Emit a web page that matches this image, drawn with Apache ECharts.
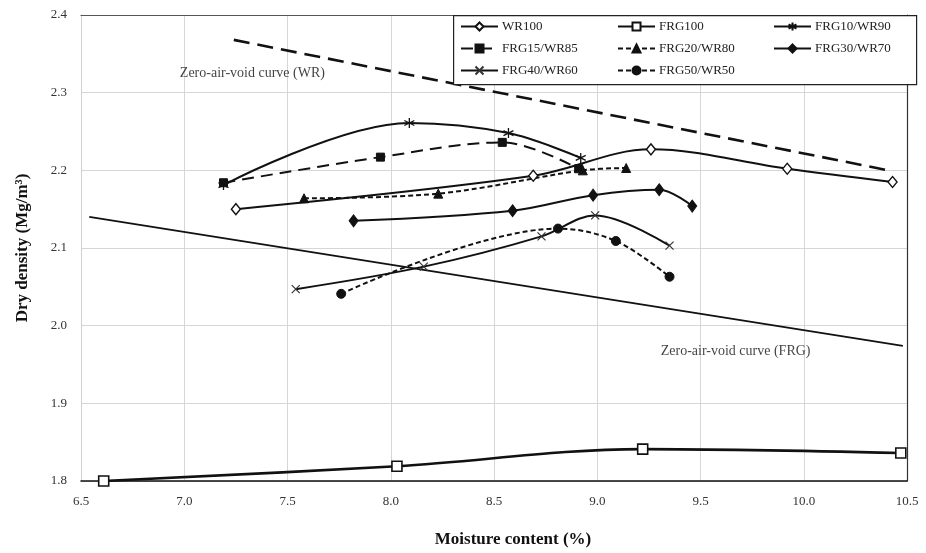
<!DOCTYPE html>
<html>
<head>
<meta charset="utf-8">
<script src="https://cdn.jsdelivr.net/npm/echarts@6/dist/echarts.min.js"></script>
<style>
html,body{margin:0;padding:0;background:#fff;}
#chart{width:926px;height:553px;}
</style>
</head>
<body>
<div id="chart"></div>
<script>
// ---- Data ----
const xTickLabels = ['6.5','7.0','7.5','8.0','8.5','9.0','9.5','10.0','10.5'];
const yTickLabels = ['1.8','1.9','2.0','2.1','2.2','2.3','2.4'];

const wr100X = [7.25, 8.69, 9.26, 9.92, 10.43];
const wr100Y = [2.150, 2.193, 2.227, 2.202, 2.185];

const frg100X = [6.61, 8.03, 9.22, 10.47];
const frg100Y = [1.800, 1.819, 1.841, 1.836];

const frg10X = [7.19, 8.09, 8.57, 8.92];
const frg10Y = [2.181, 2.261, 2.248, 2.216];

const frg15X = [7.19, 7.95, 8.54, 8.91];
const frg15Y = [2.184, 2.217, 2.236, 2.202];

const frg20X = [7.58, 8.23, 8.93, 9.14];
const frg20Y = [2.164, 2.170, 2.200, 2.203];

const frg30X = [7.82, 8.59, 8.98, 9.30, 9.46];
const frg30Y = [2.135, 2.148, 2.168, 2.175, 2.154];

const frg40X = [7.54, 8.16, 8.73, 8.99, 9.35];
const frg40Y = [2.047, 2.076, 2.115, 2.142, 2.103];

const frg50X = [7.76, 8.81, 9.09, 9.35];
const frg50Y = [2.041, 2.125, 2.109, 2.063];

const zavWRX = [7.24, 10.41];
const zavWRY = [2.368, 2.200];
const zavFRGX = [6.54, 10.48];
const zavFRGY = [2.140, 1.974];

const zavLabels = ['Zero-air-void curve (WR)', 'Zero-air-void curve (FRG)'];
const zavLabelX = [7.33, 9.67];
const zavLabelY = [2.325, 1.967];

const seriesNames = ['WR100','FRG100','FRG10/WR90','FRG15/WR85','FRG20/WR80','FRG30/WR70','FRG40/WR60','FRG50/WR50'];

// ---- Build ----
function pairs(xs, ys){ return xs.map((x,i)=>[x, ys[i]]); }
const FONT = '"Liberation Serif", "DejaVu Serif", serif';
const BLACK = '#111';

const ASTERISK = 'path://M5,0L5,10M0.7,2.5L9.3,7.5M0.7,7.5L9.3,2.5';
const CROSS = 'path://M0,0L10,10M0,10L10,0';

function lineSeries(name, xs, ys, opts){
  return Object.assign({
    name: name,
    type: 'line',
    data: pairs(xs, ys),
    smooth: 0.35,
    symbolSize: 8,
    showAllSymbol: true,
    lineStyle: {color: BLACK, width: 2, type: 'solid'},
    itemStyle: {color: BLACK, borderColor: BLACK, borderWidth: 1},
    z: 5
  }, opts);
}

const series = [
  lineSeries(seriesNames[0], wr100X, wr100Y, {
    symbol: 'diamond', symbolSize: [9, 11],
    itemStyle: {color: '#fff', borderColor: BLACK, borderWidth: 1.4}
  }),
  lineSeries(seriesNames[1], frg100X, frg100Y, {
    symbol: 'rect', symbolSize: 10,
    lineStyle: {color: BLACK, width: 2.6, type: 'solid'},
    itemStyle: {color: '#fff', borderColor: BLACK, borderWidth: 1.6}
  }),
  lineSeries(seriesNames[2], frg10X, frg10Y, {
    symbol: ASTERISK, symbolSize: 10,
    itemStyle: {color: 'rgba(0,0,0,0)', borderColor: BLACK, borderWidth: 1.3}
  }),
  lineSeries(seriesNames[3], frg15X, frg15Y, {
    symbol: 'rect', symbolSize: 8,
    lineStyle: {color: BLACK, width: 2, type: [12, 7]}
  }),
  lineSeries(seriesNames[4], frg20X, frg20Y, {
    symbol: 'triangle', symbolSize: 9,
    lineStyle: {color: BLACK, width: 2, type: [5, 3]}
  }),
  lineSeries(seriesNames[5], frg30X, frg30Y, {
    symbol: 'diamond', symbolSize: [9, 12]
  }),
  lineSeries(seriesNames[6], frg40X, frg40Y, {
    symbol: CROSS, symbolSize: 8,
    itemStyle: {color: 'rgba(0,0,0,0)', borderColor: '#333', borderWidth: 1.2}
  }),
  lineSeries(seriesNames[7], frg50X, frg50Y, {
    symbol: 'circle', symbolSize: 9,
    lineStyle: {color: BLACK, width: 2, type: [5, 3]}
  }),
  {
    name: 'ZAV-WR', type: 'line', data: pairs(zavWRX, zavWRY),
    symbol: 'none', lineStyle: {color: BLACK, width: 2.6, type: [16, 8]}, z: 4
  },
  {
    name: 'ZAV-FRG', type: 'line', data: pairs(zavFRGX, zavFRGY),
    symbol: 'none', lineStyle: {color: BLACK, width: 1.8, type: 'solid'}, z: 4
  },
  {
    name: 'ZAV labels', type: 'scatter', symbolSize: 0, silent: true,
    data: zavLabels.map((t,i)=>({value:[zavLabelX[i], zavLabelY[i]], name: t})),
    label: {show: true, position: 'inside', formatter: p => p.name,
      fontFamily: FONT, fontSize: 14, color: '#111'},
    z: 6
  }
];

function legendCol(names, left){
  return {
    data: names, left: left, top: 20, orient: 'vertical', z: 20,
    itemWidth: 37, itemHeight: 10, itemGap: 9, padding: 0,
    textStyle: {fontFamily: FONT, fontSize: 13, color: '#222', padding: [0,0,0,-1]},
    selectedMode: false
  };
}

const chart = echarts.init(document.getElementById('chart'), null, {renderer: 'canvas'});
chart.setOption({
  animation: false,
  backgroundColor: '#fff',
  grid: {left: 81, right: 19, top: 15, bottom: 72, containLabel: false, outerBoundsMode: 'none'},
  xAxis: [{
    type: 'value', min: 6.5, max: 10.5, interval: 0.5,
    name: 'Moisture content (%)', nameLocation: 'middle', nameGap: 50,
    nameTextStyle: {fontFamily: FONT, fontSize: 17, fontWeight: 'bold', color: '#111', padding: [0,0,0,38]},
    axisLine: {show: true, onZero: false, lineStyle: {color: '#111', width: 1.5}},
    axisTick: {show: false},
    axisLabel: {fontFamily: FONT, fontSize: 13, color: '#333', margin: 14,
      formatter: v => xTickLabels[Math.round((v - 6.5) / 0.5)] || ''},
    splitLine: {show: true, lineStyle: {color: '#d6d6d6', width: 1}}
  }, {
    type: 'value', position: 'top', min: 6.5, max: 10.5,
    axisLine: {show: true, onZero: false, lineStyle: {color: '#555', width: 1.2}},
    axisTick: {show: false}, axisLabel: {show: false}, splitLine: {show: false}
  }],
  yAxis: [{
    type: 'value', min: 1.8, max: 2.4, interval: 0.1,
    name: 'Dry density (Mg/m³)', nameLocation: 'middle', nameGap: 50,
    nameTextStyle: {fontFamily: FONT, fontSize: 17, fontWeight: 'bold', color: '#111'},
    axisLine: {show: true, onZero: false, lineStyle: {color: '#d0d0d0', width: 1}},
    axisTick: {show: false},
    axisLabel: {fontFamily: FONT, fontSize: 13, color: '#333', margin: 14,
      formatter: v => yTickLabels[Math.round((v - 1.8) / 0.1)] || ''},
    splitLine: {show: true, lineStyle: {color: '#d6d6d6', width: 1}}
  }, {
    type: 'value', position: 'right', min: 1.8, max: 2.4,
    axisLine: {show: true, onZero: false, lineStyle: {color: '#333', width: 1.2}},
    axisTick: {show: false}, axisLabel: {show: false}, splitLine: {show: false}
  }],
  legend: [
    legendCol([seriesNames[0], seriesNames[3], seriesNames[6]], 460),
    legendCol([seriesNames[1], seriesNames[4], seriesNames[7]], 617),
    legendCol([seriesNames[2], seriesNames[5]], 773)
  ],
  graphic: [{
    type: 'rect', left: 453, top: 15, z: 10,
    shape: {width: 463, height: 69},
    style: {fill: '#fff', stroke: '#222', lineWidth: 1.2}
  }],
  series: series
});
</script>
</body>
</html>
